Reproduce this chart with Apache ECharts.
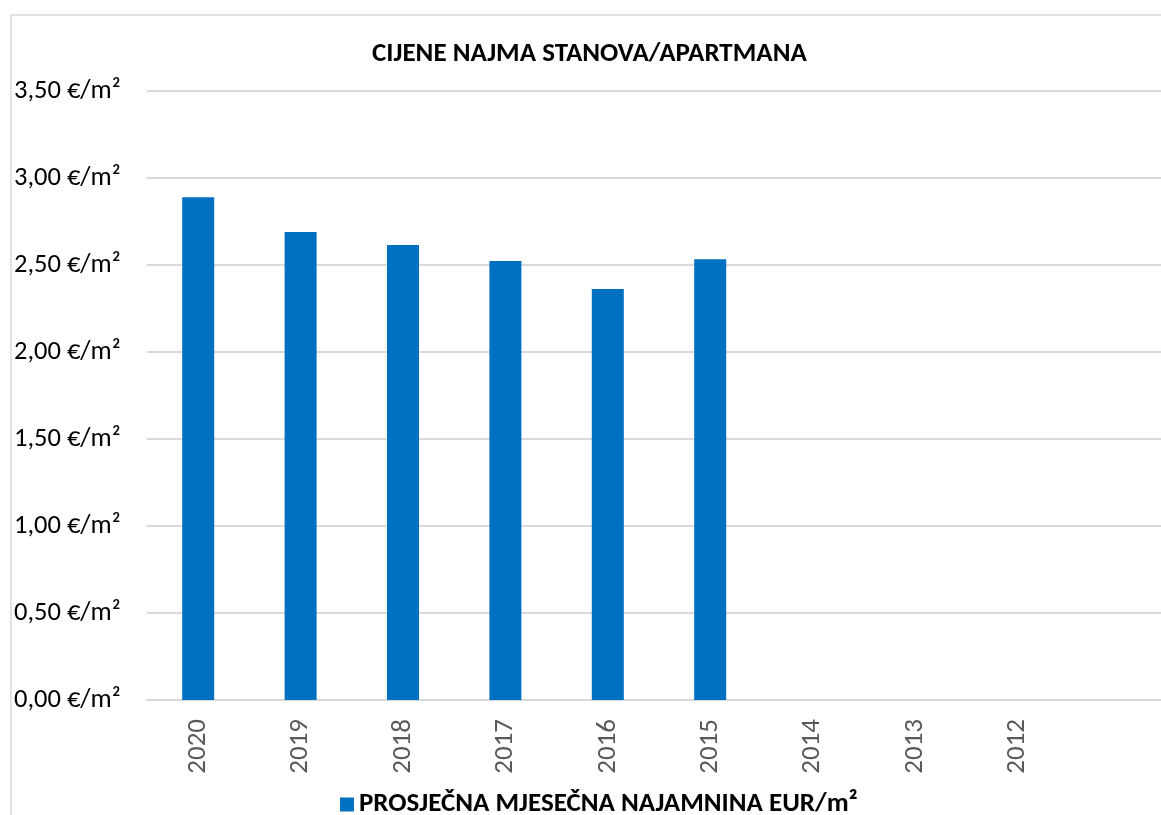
<!DOCTYPE html>
<html>
<head>
<meta charset="utf-8">
<script src="https://cdn.jsdelivr.net/npm/echarts@6/dist/echarts.min.js"></script>
<style>
  html, body { margin: 0; padding: 0; background: #fff; }
  #chart { width: 1161px; height: 815px; }
</style>
</head>
<body>
<div id="chart"></div>
<script>
(function () {

	// podaci
	var years = ['2020', '2019', '2018', '2017', '2016', '2015', '2014', '2013', '2012', ''];
	var rent = [2.89, 2.69, 2.615, 2.523, 2.362, 2.533, null, null, null, null];
	var seriesName = 'PROSJEČNA MJESEČNA NAJAMNINA EUR/m²';
	var titleText = 'CIJENE NAJMA STANOVA/APARTMANA';

	var font = "Carlito, 'Open Sans', sans-serif";

	function fmt(v) {
		return v.toFixed(2).replace('.', ',') + ' €/m²';
	}

	var option = {
		backgroundColor: '#fff',
		animation: false,
		title: {
			text: titleText,
			left: 367,
			top: 36,
			textStyle: { fontFamily: font, fontSize: 27, fontWeight: 'bold', color: '#000' }
		},
		legend: {
			top: 786,
			left: 335,
			itemWidth: 14,
			itemHeight: 14,
			itemGap: 8,
			textStyle: { fontFamily: font, fontSize: 27, fontWeight: 'bold', color: '#000' },
			data: [{ name: seriesName, icon: 'rect' }]
		},
		grid: {
			left: 147,
			top: 91,
			width: 1024,
			height: 609,
			outerBoundsMode: 'none'
		},
		xAxis: {
			type: 'category',
			data: years,
			axisLine: { lineStyle: { color: '#d9d9d9', width: 2 } },
			axisTick: { show: false },
			axisLabel: {
				rotate: 90,
				margin: 19,
				interval: 0,
				fontFamily: font,
				fontSize: 27,
				color: '#595959'
			}
		},
		yAxis: {
			type: 'value',
			min: 0,
			max: 3.5,
			interval: 0.5,
			axisLine: { show: false },
			axisTick: { show: false },
			splitLine: { lineStyle: { color: '#d9d9d9', width: 2 } },
			axisLabel: {
				align: 'left',
				margin: 133,
				fontFamily: font,
				fontSize: 26.5,
				color: '#000',
				formatter: fmt
			}
		},
		series: [{
			name: seriesName,
			type: 'bar',
			data: rent,
			barWidth: 32,
			itemStyle: { color: '#0070c0' }
		}],
		graphic: [{
			type: 'rect',
			z: -1,
			shape: { x: 11, y: 15, width: 1300, height: 1000 },
			style: { fill: 'none', stroke: '#d9d9d9', lineWidth: 1.5 }
		}]
	};

	var chart = echarts.init(document.getElementById('chart'));
	chart.setOption(option);

})();
</script>
</body>
</html>
